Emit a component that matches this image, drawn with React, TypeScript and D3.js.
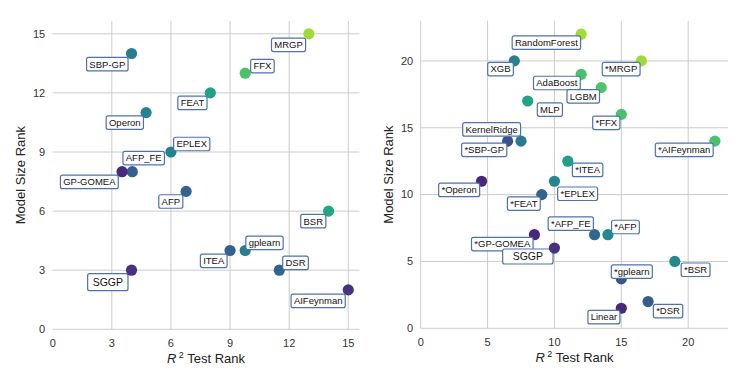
import React from "react";
import * as d3 from "d3";

// ---------- Left panel data ----------
const leftMethods = ["MRGP", "SBP-GP", "FFX", "FEAT", "Operon", "EPLEX", "AFP_FE", "GP-GOMEA", "AFP", "BSR", "gplearn", "ITEA", "DSR", "SGGP", "AIFeynman"];
const leftR2Rank = [13, 4, 9.77, 8, 4.74, 6, 4.04, 3.52, 6.77, 14, 9.77, 9, 11.5, 4, 15];
const leftSizeRank = [15, 14, 13, 12, 11, 9, 8, 8, 7, 6, 4, 4, 3, 3, 2];
const leftColors = ["#a0da39", "#277f8e", "#4ac16d", "#1fa187", "#26828e", "#26828e", "#33608d", "#482a7a", "#32628d", "#22a785", "#277f8e", "#33608d", "#32648e", "#46327e", "#46337f"];
const leftLabelDx = [-20.3, -24.2, 17.2, -17.9, -21.3, 20.8, 11.4, -32.7, -15.3, -15.3, 19.3, -16.3, 16.2, -23.7, -30.1];
const leftLabelDy = [11, 10.7, -7.1, 10, 10, -8, -13.6, 10.2, 10.1, 10.1, -7.7, 10.3, -7.3, 12, 11];
const leftXTicks = [0, 3, 6, 9, 12, 15];
const leftYTicks = [0, 3, 6, 9, 12, 15];

// ---------- Right panel data ----------
const rightMethods = ["RandomForest", "XGB", "*MRGP", "AdaBoost", "LGBM", "MLP", "*FFX", "KernelRidge", "*SBP-GP", "*AIFeynman", "*ITEA", "*Operon", "*EPLEX", "*FEAT", "*AFP_FE", "*AFP", "*GP-GOMEA", "SGGP", "*BSR", "*gplearn", "*DSR", "Linear"];
const rightR2Rank = [12, 7, 16.5, 12, 13.5, 8, 15, 6.5, 7.5, 22, 11, 4.55, 10, 9.05, 13, 14, 8.5, 10, 19, 15, 17, 15];
const rightSizeRank = [22, 20, 20, 19, 18, 17, 16, 14, 14, 14, 12.5, 11, 11, 10, 7, 7, 7, 6, 5, 3.7, 2, 1.5];
const rightColors = ["#a5db36", "#26818e", "#a0da39", "#4ac16d", "#4ec36b", "#20a386", "#4ac16d", "#3b528b", "#297a8e", "#4ac16d", "#1f9f88", "#482878", "#24878e", "#33638d", "#31668e", "#23898e", "#482878", "#46327e", "#23898e", "#39568c", "#365c8d", "#482878"];
const rightLabelDx = [-34.8, -13.8, -20.2, -24.3, -18, 22.2, -15, -16, -36.8, -30.7, 19.8, -22.4, 23.2, -17.9, -23.8, 17.5, -32.1, -26.6, 20.8, 10.5, 20, -17.4];
const rightLabelDy = [8.5, 8.2, 8.2, 8.7, 8.7, 8.6, 8.4, -11.7, 8.7, 8.7, 8.7, 8.7, 12.5, 9, -11, -7.7, 9.4, 8.4, 8.3, -7.3, 9.5, 8.9];
const rightXTicks = [0, 5, 10, 15, 20];
const rightYTicks = [0, 5, 10, 15, 20];

const FONT = "'Liberation Sans', Arial, Helvetica, sans-serif";
const LABEL_SIZE = 9.5;

let ctx: CanvasRenderingContext2D | null = null;
function measure(text: string, size: number): number {
  if (!ctx) {
    const c = document.createElement("canvas");
    ctx = c.getContext("2d");
  }
  if (!ctx) return text.length * size * 0.6;
  ctx.font = `${size}px 'Liberation Sans', Arial, sans-serif`;
  return ctx.measureText(text).width;
}

type PanelProps = {
  methods: string[];
  xs: number[];
  ys: number[];
  colors: string[];
  ldx: number[];
  ldy: number[];
  xTicks: number[];
  yTicks: number[];
  xDomain: [number, number];
  yDomain: [number, number];
  xRange: [number, number];
  yRange: [number, number];
  showZeroVGrid: boolean;
  yTitleX: number;
  sggpPadX: number;
  sggpH: number;
};

function Panel(p: PanelProps) {
  const x = d3.scaleLinear().domain(p.xDomain).range(p.xRange);
  const y = d3.scaleLinear().domain(p.yDomain).range(p.yRange);
  const [x0, x1] = p.xRange;
  const [yb, yt] = p.yRange;
  const idx = p.methods.map((_, i) => i);
  const special = idx.filter((i) => p.methods[i] === "SGGP");
  const normal = idx.filter((i) => p.methods[i] !== "SGGP");

  const label = (i: number) => {
    const isS = p.methods[i] === "SGGP";
    const size = isS ? 10.5 : LABEL_SIZE;
    const w = measure(p.methods[i], size) + 2 * (isS ? p.sggpPadX : 2.8);
    const h = isS ? p.sggpH : 13.5;
    const cx = x(p.xs[i]) + p.ldx[i];
    const cy = y(p.ys[i]) + p.ldy[i];
    return (
      <g key={"l" + i}>
        <rect x={cx - w / 2} y={cy - h / 2} width={w} height={h} rx={2} ry={2} fill="#ffffff" stroke="#4c72b0" strokeWidth={1.2} />
        <text x={cx} y={cy} dy="0.35em" textAnchor="middle" fontSize={size} fontFamily={FONT} fill="#111">
          {p.methods[i]}
        </text>
      </g>
    );
  };
  const dot = (i: number) => (
    <circle key={"p" + i} cx={x(p.xs[i])} cy={y(p.ys[i])} r={5.6} fill={p.colors[i]} />
  );

  const cxMid = (x0 + x1) / 2;
  const cyMid = (yb + yt) / 2;

  return (
    <g>
      {p.yTicks.map((t) => (
        <line key={"hy" + t} x1={x0} x2={x1} y1={y(t)} y2={y(t)} stroke="#cccccc" strokeWidth={1} />
      ))}
      {p.xTicks
        .filter((t) => p.showZeroVGrid || t !== 0)
        .map((t) => (
          <line key={"vx" + t} x1={x(t)} x2={x(t)} y1={yb} y2={yt} stroke="#cccccc" strokeWidth={1} />
        ))}
      {p.yTicks.map((t) => (
        <text key={"ty" + t} x={x0 - 7.5} y={y(t)} dy="0.35em" textAnchor="end" fontSize={11} fontFamily={FONT} fill="#333">
          {t}
        </text>
      ))}
      {p.xTicks.map((t) => (
        <text key={"tx" + t} x={x(t)} y={yb + 17.5} textAnchor="middle" fontSize={11} fontFamily={FONT} fill="#333">
          {t}
        </text>
      ))}
      <text x={cxMid} y={yb + 33.5} textAnchor="middle" fontSize={13} fontFamily={FONT} fill="#222">
        <tspan fontStyle="italic">R</tspan>
        <tspan fontSize={9} dy={-5}> 2</tspan>
        <tspan dy={5}> Test Rank</tspan>
      </text>
      <text
        transform={`translate(${p.yTitleX},${cyMid}) rotate(-90)`}
        textAnchor="middle"
        dy="0.35em"
        fontSize={13}
        fontFamily={FONT}
        fill="#222"
      >
        Model Size Rank
      </text>
      {normal.map(dot)}
      {normal.map(label)}
      {special.map(label)}
      {special.map(dot)}
    </g>
  );
}

export default function App() {
  return (
    <svg width={734} height={377} style={{ position: "absolute", left: 0, top: 0, background: "#fff" }}>
      <rect x={0} y={0} width={734} height={377} fill="#fff" />
      <Panel
        methods={leftMethods}
        xs={leftR2Rank}
        ys={leftSizeRank}
        colors={leftColors}
        ldx={leftLabelDx}
        ldy={leftLabelDy}
        xTicks={leftXTicks}
        yTicks={leftYTicks}
        xDomain={[0, 15.56]}
        yDomain={[0, 15.65]}
        xRange={[52.7, 359.3]}
        yRange={[329.3, 21]}
        showZeroVGrid={false}
        yTitleX={20}
        sggpPadX={5}
        sggpH={17}
      />
      <Panel
        methods={rightMethods}
        xs={rightR2Rank}
        ys={rightSizeRank}
        colors={rightColors}
        ldx={rightLabelDx}
        ldy={rightLabelDy}
        xTicks={rightXTicks}
        yTicks={rightYTicks}
        xDomain={[0, 23]}
        yDomain={[0, 23]}
        xRange={[420.7, 728.3]}
        yRange={[328.3, 20.8]}
        showZeroVGrid={true}
        yTitleX={388}
        sggpPadX={10}
        sggpH={15}
      />
    </svg>
  );
}
